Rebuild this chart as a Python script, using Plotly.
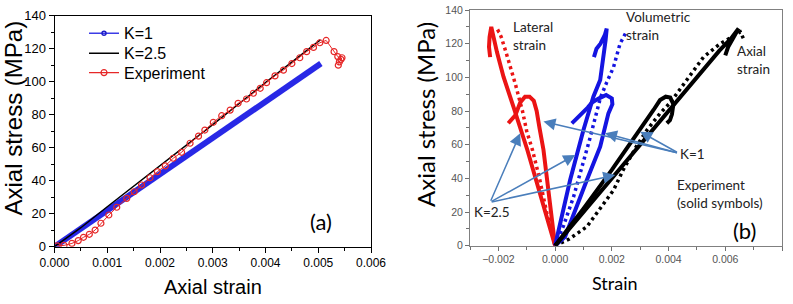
import plotly.graph_objects as go

W, H = 793, 304

# ---------------- Panel (a) data ----------------
a_k1_strain = [0.0, 0.0005, 0.001, 0.0015, 0.002, 0.0025, 0.003, 0.0035, 0.004, 0.0045, 0.00505]
a_k1_stress = [0.0, 11.0, 21.5, 33.0, 44.0, 55.0, 66.0, 77.0, 88.5, 99.5, 111.0]

a_k25_strain = [0.0, 0.0005, 0.001, 0.002, 0.003, 0.004, 0.00504]
a_k25_stress = [0.0, 11.5, 24.2, 49.0, 74.0, 99.5, 125.3]

a_exp_strain = [0.00005, 0.00018, 0.00033, 0.00045, 0.00055, 0.00066, 0.00077, 0.00088, 0.00103, 0.00118,
                0.00137, 0.00151, 0.00165, 0.00181, 0.00195, 0.0021, 0.00225, 0.00241, 0.00257, 0.00273,
                0.00285, 0.00301, 0.00317, 0.00333, 0.00348, 0.00364, 0.00377, 0.0039, 0.00402, 0.00418,
                0.00434, 0.0045, 0.00465, 0.00478, 0.00491, 0.00503, 0.00515, 0.0053, 0.00537, 0.00543,
                0.00545, 0.0054, 0.00538]
a_exp_stress = [0.5, 0.8, 2.0, 3.7, 5.7, 7.5, 10.1, 14.2, 19.2, 23.9,
                29.3, 33.3, 37.4, 41.8, 45.5, 49.0, 53.6, 57.2, 62.7, 67.0,
                70.7, 75.4, 79.4, 82.8, 86.9, 89.5, 93.0, 96.0, 99.4, 103.5,
                107.0, 111.0, 114.5, 118.2, 120.8, 123.6, 125.0, 118.2, 115.2, 113.5,
                114.5, 112.0, 110.0]

a_xticks = [0.0, 0.001, 0.002, 0.003, 0.004, 0.005, 0.006]
a_yticks = [0, 20, 40, 60, 80, 100, 120, 140]

# ---------------- Panel (b) data ----------------
lat_k25_strain = [0.0, -0.0005, -0.00098, -0.00147, -0.00182, -0.00205, -0.0022, -0.00225, -0.00231, -0.00233, -0.00229]
lat_k25_stress = [0.0, 29.0, 57.0, 82.6, 100.4, 115.0, 126.0, 130.0, 124.0, 118.0, 112.0]

lat_k1_strain = [0.0, -0.0002, -0.00041, -0.00055, -0.00065, -0.00075, -0.0009, -0.00106, -0.00123, -0.0014, -0.00165]
lat_k1_stress = [0.0, 28.0, 57.0, 70.0, 80.0, 86.0, 88.5, 88.5, 85.0, 77.5, 72.7]

lat_exp_strain = [0.0, -0.0003, -0.00055, -0.0008, -0.001, -0.00115, -0.0014, -0.0016, -0.00175, -0.0019, -0.002, -0.0021]
lat_exp_stress = [0.0, 20.0, 40.0, 57.0, 68.0, 80.0, 96.0, 108.0, 116.0, 124.0, 127.5, 126.5]

vol_k25_strain = [0.0, 0.00053, 0.001, 0.00135, 0.00159, 0.0017, 0.00178, 0.00182, 0.00175, 0.0016, 0.00146, 0.00137]
vol_k25_stress = [0.0, 39.0, 68.7, 88.5, 98.4, 110.0, 122.0, 129.0, 125.0, 120.0, 117.0, 112.0]

vol_k1_strain = [0.0, 0.00035, 0.00112, 0.00159, 0.00188, 0.00202, 0.002, 0.0018, 0.00155, 0.0013, 0.00115, 0.0009, 0.00059]
vol_k1_stress = [0.0, 5.3, 39.0, 58.8, 78.6, 84.0, 87.5, 89.5, 87.5, 85.0, 82.0, 78.0, 72.7]

vol_exp_strain = [0.0, 0.0003, 0.00065, 0.001, 0.0012, 0.0014, 0.0016, 0.00182, 0.00206, 0.00229, 0.0024, 0.00248]
vol_exp_stress = [0.0, 12.0, 29.0, 49.0, 62.0, 75.0, 88.0, 97.0, 106.0, 120.0, 124.0, 126.0]

ax_k25_strain = [0.0, 0.001, 0.002, 0.003, 0.004, 0.005, 0.0058, 0.0062, 0.00647, 0.0063, 0.0061, 0.006]
ax_k25_stress = [0.0, 20.0, 40.0, 60.0, 80.0, 99.5, 116.0, 123.0, 129.0, 124.0, 118.0, 113.0]

ax_k1_strain = [0.0, 0.001, 0.002, 0.003, 0.00347, 0.0037, 0.0039, 0.00406, 0.00417, 0.00412, 0.00405, 0.00394]
ax_k1_stress = [0.0, 22.0, 45.0, 68.7, 80.6, 86.5, 88.5, 88.0, 84.0, 78.0, 74.5, 72.7]

ax_exp_strain = [0.0, 0.0005, 0.00112, 0.0016, 0.00206, 0.0024, 0.0029, 0.00324, 0.0037, 0.00406, 0.00465, 0.00523, 0.00582, 0.00629, 0.00653, 0.00664]
ax_exp_stress = [0.0, 4.0, 11.3, 22.0, 33.0, 45.0, 60.0, 68.7, 78.6, 85.0, 98.4, 112.0, 120.0, 125.0, 127.0, 123.0]

b_xticks = [-0.002, 0.0, 0.002, 0.004, 0.006, 0.008]
b_yticks = [0, 20, 40, 60, 80, 100, 120, 140]

# arrows: (head strain, head stress); shared tails
k1_arrows = [(-0.00041, 73.7), (0.00176, 66.8), (0.0030, 67.7)]
k1_tail = (0.00435, 55.0)
k25_arrows = [(-0.00123, 66.8), (0.00071, 53.9), (0.00212, 42.0)]
k25_tail = (-0.00229, 25.8)

RED = "rgb(235,20,20)"
BLUE = "rgb(20,20,225)"
BLACK = "black"
ARROW = "rgb(74,126,187)"

fig = go.Figure()

# ---- panel (a) traces ----
fig.add_trace(go.Scatter(x=a_k1_strain, y=a_k1_stress, mode="lines", line=dict(color="rgb(40,40,230)", width=6),
                         showlegend=False, xaxis="x", yaxis="y"))
fig.add_trace(go.Scatter(x=a_k25_strain, y=a_k25_stress, mode="lines", line=dict(color=BLACK, width=1.5),
                         showlegend=False, xaxis="x", yaxis="y"))
fig.add_trace(go.Scatter(x=a_exp_strain, y=a_exp_stress, mode="lines+markers",
                         line=dict(color="rgb(230,40,40)", width=1),
                         marker=dict(symbol="circle-open", size=6, color="rgb(230,40,40)", line=dict(width=1.2)),
                         showlegend=False, xaxis="x", yaxis="y"))
# legend entries (each in its own legend box so the spacing matches)
fig.add_trace(go.Scatter(x=[None], y=[None], name="K=1", mode="lines+markers", legend="legend",
                         line=dict(color="rgb(60,60,230)", width=1.5),
                         marker=dict(symbol="circle-open", size=4, color="rgb(30,30,200)", line=dict(width=1.5)),
                         xaxis="x", yaxis="y"))
fig.add_trace(go.Scatter(x=[None], y=[None], name="K=2.5", mode="lines", legend="legend2",
                         line=dict(color=BLACK, width=1.5), xaxis="x", yaxis="y"))
fig.add_trace(go.Scatter(x=[None], y=[None], name="Experiment", mode="lines+markers", legend="legend3",
                         line=dict(color="rgb(230,40,40)", width=1.2),
                         marker=dict(symbol="circle-open", size=6, color="rgb(230,40,40)", line=dict(width=1.2)),
                         xaxis="x", yaxis="y"))

# ---- panel (b) traces ----
dotdash = "3px,3.5px"
for xs, ys, col in [(lat_exp_strain, lat_exp_stress, RED), (vol_exp_strain, vol_exp_stress, BLUE),
                    (ax_exp_strain, ax_exp_stress, BLACK)]:
    fig.add_trace(go.Scatter(x=xs, y=ys, mode="lines", line=dict(color=col, width=3.5, dash=dotdash),
                             showlegend=False, xaxis="x2", yaxis="y2"))
for xs, ys, col in [(lat_k25_strain, lat_k25_stress, RED), (lat_k1_strain, lat_k1_stress, RED),
                    (vol_k25_strain, vol_k25_stress, BLUE), (vol_k1_strain, vol_k1_stress, BLUE),
                    (ax_k25_strain, ax_k25_stress, BLACK), (ax_k1_strain, ax_k1_stress, BLACK)]:
    fig.add_trace(go.Scatter(x=xs, y=ys, mode="lines", line=dict(color=col, width=4),
                             showlegend=False, xaxis="x2", yaxis="y2"))


def px_x(p):
    return p / W


def px_y(p):
    return 1 - p / H


annotations = []
for (hx, hy) in k1_arrows:
    annotations.append(dict(x=hx, y=hy, ax=k1_tail[0], ay=k1_tail[1], xref="x2", yref="y2", axref="x2", ayref="y2",
                            text="", showarrow=True, arrowhead=2, arrowsize=1.6, arrowwidth=1.5, arrowcolor=ARROW))
for (hx, hy) in k25_arrows:
    annotations.append(dict(x=hx, y=hy, ax=k25_tail[0], ay=k25_tail[1], xref="x2", yref="y2", axref="x2", ayref="y2",
                            text="", showarrow=True, arrowhead=2, arrowsize=1.6, arrowwidth=1.5, arrowcolor=ARROW))

LATO = "Lato, sans-serif"
small = dict(family=LATO, size=13.5, color="#222")


def txt(text, x, y, font, xanchor="left", yanchor="middle", angle=0, align="left"):
    annotations.append(dict(text=text, x=px_x(x), y=px_y(y), xref="paper", yref="paper", showarrow=False,
                            xanchor=xanchor, yanchor=yanchor, textangle=angle, font=font, align=align))


# panel (a) texts
txt("Axial strain", 213, 287, dict(family="Arial", size=20, color="black"), xanchor="center")
txt("Axial stress (MPa)", -2, 118, dict(family="Arial", size=24, color="black"), xanchor="left", angle=-90)
txt("(a)", 320.5, 221, dict(family=LATO, size=22, color="black"), xanchor="center")

# panel (b) texts
txt("Strain", 615, 283, dict(family=LATO, size=18, color="black"), xanchor="center")
txt("Axial stress (MPa)", 425, 115, dict(family=LATO, size=24, color="black"), xanchor="center", angle=-90)
txt("(b)", 744, 231, dict(family=LATO, size=22, color="black"), xanchor="center")
txt("Lateral<br>strain", 511, 36, small)
txt("Volumetric<br>strain", 624, 26, small)
txt("Axial<br>strain", 735, 60, small)
txt("K=1", 678, 154, small)
txt("Experiment<br>(solid symbols)", 675, 194, small)
txt("K=2.5", 472, 212, small)

axis_a = dict(showline=True, linecolor="black", linewidth=1, mirror=True, ticks="outside", ticklen=5,
              tickcolor="black", showgrid=False, zeroline=False, automargin=False)
axis_b = dict(showline=True, linecolor="#808080", linewidth=1, mirror=True, ticks="outside", ticklen=4,
              tickcolor="#707070", showgrid=False, zeroline=False, automargin=False)

leg_common = dict(xanchor="left", yanchor="middle", bgcolor="rgba(0,0,0,0)",
                  font=dict(family="Arial", size=16, color="black"), itemwidth=30)

fig.update_layout(
    width=W, height=H, margin=dict(l=0, r=0, t=0, b=0, autoexpand=False),
    paper_bgcolor="white", plot_bgcolor="white",
    showlegend=True,
    legend=dict(x=px_x(84), y=px_y(33.3), **leg_common),
    legend2=dict(x=px_x(84), y=px_y(53.3), **leg_common),
    legend3=dict(x=px_x(84), y=px_y(72.7), **leg_common),
    xaxis=dict(domain=[54.5 / W, 371 / W], range=[0, 0.006], tickvals=a_xticks, tickformat=".3f",
               tickfont=dict(family="Arial", size=12, color="black"),
               minor=dict(ticks="outside", ticklen=3, dtick=0.0005, tickcolor="black"), anchor="y", **axis_a),
    yaxis=dict(domain=[px_y(246.7), px_y(15.7)], range=[0, 140], tickvals=a_yticks,
               tickfont=dict(family="Arial", size=13, color="black"),
               minor=dict(ticks="outside", ticklen=3, dtick=10, tickcolor="black"), anchor="x", **axis_a),
    xaxis2=dict(domain=[470 / W, 782 / W], range=[-0.003, 0.008], tickvals=b_xticks, tickformat=".3f",
                tickfont=dict(family="Arial", size=10.5, color="#555"),
                minor=dict(ticks="outside", ticklen=3, dtick=0.001, tickcolor="#707070"), anchor="y2", **axis_b),
    yaxis2=dict(domain=[px_y(245.7), px_y(10)], range=[0, 140], tickvals=b_yticks,
                tickfont=dict(family="Arial", size=10.5, color="#555"),
                minor=dict(ticks="outside", ticklen=3, dtick=10, tickcolor="#707070"), anchor="x2", **axis_b),
    annotations=annotations,
)

fig.write_html("out.html")
